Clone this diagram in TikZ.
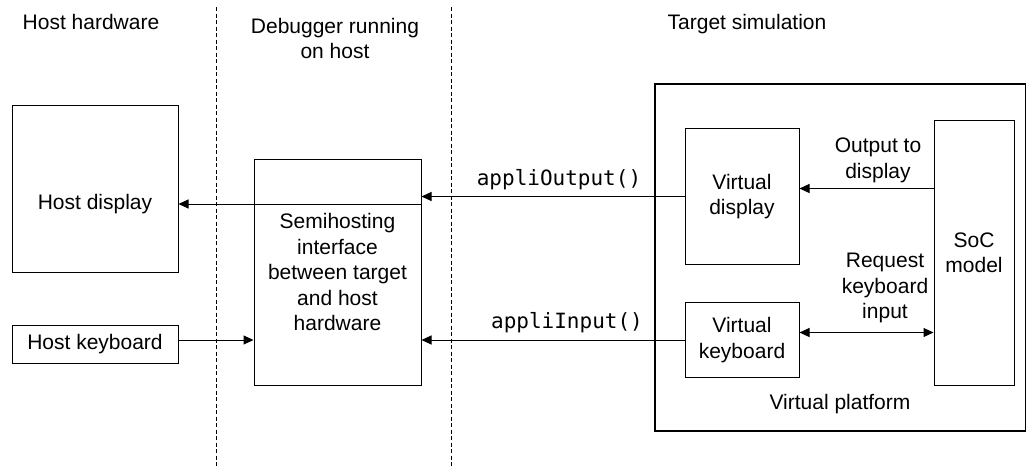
\documentclass[tikz,border=0pt]{standalone}
\usepackage{fontspec}
\setmainfont{Liberation Sans}
\setmonofont{DejaVu Sans Mono}
\usetikzlibrary{positioning, arrows.meta}
\tikzset{
    x=1pt, y=-1pt, % one unit per pixel of the layout
    every node/.style={ % Sets the text for all nodes
        font=\fontsize{21}{25.5}\selectfont,
        align=center,
        inner sep=0pt
    },
    block/.style={ % Plain boxes
        draw,
        line width=1pt
    },
    divider/.style={ % Column separators
        draw,
        dash pattern=on 4pt off 2.5pt,
        line width=0.9pt
    },
    call/.style={ % Function names on the links
        font=\fontsize{21}{25}\ttfamily
    },
    tip/.style={Triangle[length=10pt,width=9pt]},
    link/.style={ % Sets the properties for each connector
        draw,
        line width=1pt,
        -{Triangle[length=10pt,width=9pt]}
    }
}

\begin{document}
\begin{tikzpicture}
    \useasboundingbox (0,0) rectangle (1026,466);

    % column titles and separators
    \node[anchor=north] (hwtitle) at (91,14) {Host hardware};
    \node[anchor=north] (dbgtitle) at (335,18) {Debugger running\\on host};
    \node[anchor=north] (tgttitle) at (747,14) {Target simulation};
    \coordinate (d1top) at (216,7);
    \coordinate (d1bot) at (216,466);
    \coordinate (d2top) at (451,7);
    \coordinate (d2bot) at (451,466);
    \draw[divider] (d1top) -- (d1bot);
    \draw[divider] (d2top) -- (d2bot);

    % host side
    \node[block, minimum width=166pt, minimum height=167pt,
          label={[yshift=-15.5pt]center:Host display}] (hdisp) at (95,188.5) {};
    \node[block, minimum width=166pt, minimum height=38pt] (hkbd) at (95,344) {Host keyboard};
    \node[block, minimum width=167pt, minimum height=226pt] (semi) at (337.5,272)
        {Semihosting\\interface\\between target\\and host\\hardware};

    % target side
    \node[draw, line width=2pt, minimum width=371pt, minimum height=347pt] (vp) at (840,257) {};
    \node[anchor=base] (vptitle) at (840,409) {Virtual platform};
    \node[block, minimum width=114pt, minimum height=136pt] (vdisp) at (742,196.5) {Virtual\\display};
    \node[block, minimum width=114pt, minimum height=75pt] (vkbd) at (742,340) {Virtual\\keyboard};
    \node[block, minimum width=80pt, minimum height=265pt] (soc) at (974,253) {SoC\\model};

    % connectors
    \coordinate (sout) at (semi.east |- 0,204);
    \draw[link] (sout) -- (hdisp.east |- sout);
    \coordinate (kin) at (hkbd.east |- 0,340);
    \draw[link] (kin) -- (semi.west |- kin);
    \draw[link] (vdisp.west) -- node[call, above=6pt, xshift=6pt] {appliOutput()} (semi.east |- vdisp.west);
    \draw[link] (vkbd.west) -- node[call, above=7pt, xshift=14pt] {appliInput()} (semi.east |- vkbd.west);
    \coordinate (socout) at (soc.west |- 0,188.5);
    \draw[link] (socout) -- node[above=5.5pt, xshift=11.5pt] {Output to\\display} (vdisp.east |- socout);
    \coordinate (socin) at (soc.west |- 0,332.5);
    \draw[link, {Triangle[length=10pt,width=9pt]}-{Triangle[length=10pt,width=9pt]}] (vkbd.east |- socin)
        -- node[above=9pt, xshift=18.5pt] {Request\\keyboard\\input} (socin);
\end{tikzpicture}
\end{document}
